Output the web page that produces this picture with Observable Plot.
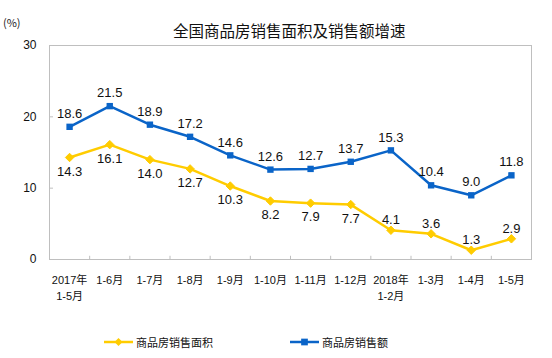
<!DOCTYPE html>
<html>
<head>
<meta charset="utf-8">
<script src="https://cdn.jsdelivr.net/npm/d3@7"></script>
<script src="https://cdn.jsdelivr.net/npm/@observablehq/plot@0.6"></script>
<style>
  body { margin: 0; background: #fff; font-family: "Liberation Sans", "Noto Sans CJK SC", sans-serif; }
  #wrap { position: relative; width: 552px; height: 358px; overflow: hidden; }
  #header { position: relative; width: 552px; height: 30px; }
  #title { position: absolute; left: 173px; top: 19px; font-size: 15.5px; color: #111; font-family: "Noto Sans CJK SC", sans-serif; white-space: nowrap; z-index: 2; }
  #unit { position: absolute; left: 3px; top: 14px; font-size: 11px; color: #222; font-family: "Noto Sans CJK SC", sans-serif; z-index: 2; }
  #legend { position: relative; width: 552px; height: 38px; font-family: "Noto Sans CJK SC", sans-serif; font-size: 11px; color: #111; }
  .lg { position: absolute; top: 14px; display: flex; align-items: center; white-space: nowrap; }
  .lg svg { margin-right: 3px; }
</style>
</head>
<body>
<div id="wrap">
  <div id="header"><div id="unit">(%)</div><div id="title">全国商品房销售面积及销售额增速</div></div>
  <div id="chart"></div>
  <div id="legend"></div>
</div>
<script>
const categories = ["2017年\n1-5月", "1-6月", "1-7月", "1-8月", "1-9月", "1-10月", "1-11月", "1-12月", "2018年\n1-2月", "1-3月", "1-4月", "1-5月"];
const areaGrowth = [14.3, 16.1, 14.0, 12.7, 10.3, 8.2, 7.9, 7.7, 4.1, 3.6, 1.3, 2.9];
const salesGrowth = [18.6, 21.5, 18.9, 17.2, 14.6, 12.6, 12.7, 13.7, 15.3, 10.4, 9.0, 11.8];
const yTicks = [0, 10, 20, 30];
const seriesNames = ["商品房销售面积", "商品房销售额"];

const YELLOW = "#FFCC00";
const BLUE = "#0A64C8";
const GRID = "#bfbfbf";

const rows = categories.map((c, i) => ({i, c, area: areaGrowth[i], sales: salesGrowth[i]}));
const idx = d3.range(categories.length);

const chart = Plot.plot({
  width: 552,
  height: 290,
  marginLeft: 49,
  marginRight: 21,
  marginTop: 15,
  marginBottom: 61,
  style: {fontFamily: "Liberation Sans, Noto Sans CJK SC, sans-serif", color: "#111", background: "transparent"},
  x: {type: "linear", domain: [-0.5, categories.length - 0.5]},
  y: {domain: [0, 30]},
  marks: [
    Plot.frame({stroke: GRID}),
    Plot.ruleY(yTicks, {x1: -0.5, x2: -0.4, stroke: GRID}),
    Plot.ruleX(d3.range(1, categories.length).map(i => i - 0.5), {y1: 0, y2: 0.45, stroke: GRID}),
    Plot.axisY(yTicks, {tickSize: 0, tickPadding: 13, fontSize: 12, label: null}),
    Plot.axisX(idx, {tickSize: 0, tickPadding: 13, fontSize: 11, lineHeight: 1.45, tickFormat: i => categories[i], label: null}),
    Plot.line(rows, {x: "i", y: "area", stroke: YELLOW, strokeWidth: 2.5}),
    Plot.dot(rows, {x: "i", y: "area", symbol: "diamond2", r: 3.8, fill: YELLOW, stroke: YELLOW, strokeWidth: 1}),
    Plot.line(rows, {x: "i", y: "sales", stroke: BLUE, strokeWidth: 2.5}),
    Plot.dot(rows, {x: "i", y: "sales", symbol: "square", r: 3.6, fill: BLUE, stroke: null}),
    Plot.text(rows, {x: "i", y: "sales", text: d => d.sales.toFixed(1), dy: -13, fontSize: 13, fill: "#111"}),
    Plot.text(rows.filter(d => d.area >= 5), {x: "i", y: "area", text: d => d.area.toFixed(1), dy: 14, fontSize: 13, fill: "#111"}),
    Plot.text(rows.filter(d => d.area < 5), {x: "i", y: "area", text: d => d.area.toFixed(1), dy: -10, fontSize: 13, fill: "#111"})
  ]
});
document.getElementById("chart").appendChild(chart);

// legend
const legend = document.getElementById("legend");
function item(left, color, symbol, name) {
  const div = document.createElement("div");
  div.className = "lg";
  div.style.left = left + "px";
  const s = d3.create("svg").attr("width", 29).attr("height", 10);
  s.append("line").attr("x1", 0).attr("x2", 29).attr("y1", 5).attr("y2", 5).attr("stroke", color).attr("stroke-width", 2.5);
  s.append("path").attr("transform", "translate(14.5,5)").attr("d", d3.symbol(symbol, symbol === d3.symbolSquare ? 45 : 40)()).attr("fill", color);
  div.appendChild(s.node());
  const t = document.createElement("span");
  t.textContent = name;
  div.appendChild(t);
  legend.appendChild(div);
}
item(104, YELLOW, d3.symbolDiamond2, seriesNames[0]);
item(290, BLUE, d3.symbolSquare, seriesNames[1]);
</script>
</body>
</html>
